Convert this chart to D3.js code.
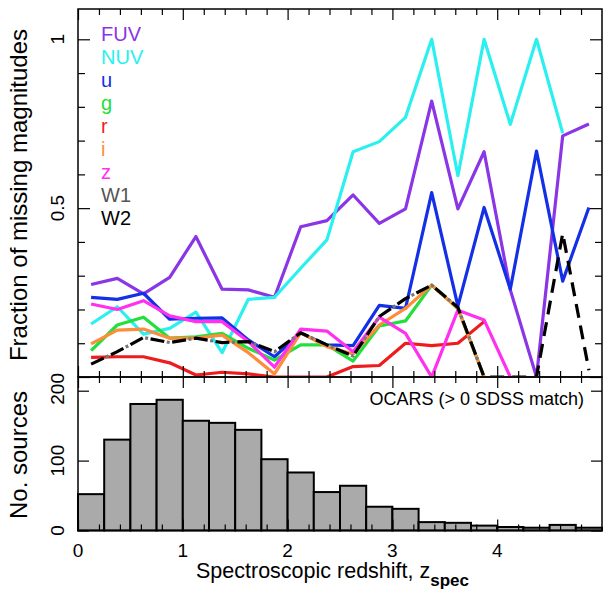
<!DOCTYPE html>
<html>
<head>
<meta charset="utf-8">
<script src="https://cdn.jsdelivr.net/npm/d3@7"></script>
<style>
    body { margin: 0; background: #fff; }
    text { font-family: "Liberation Sans", Arial, sans-serif; fill: #000; }
</style>
</head>
<body>
<script>
// redshift bin centres (bins are 0.25 wide)
const zBins = [0.125, 0.375, 0.625, 0.875, 1.125, 1.375, 1.625, 1.875, 2.125, 2.375,
    2.625, 2.875, 3.125, 3.375, 3.625, 3.875, 4.125, 4.375, 4.625, 4.875];
const binWidth = 0.25;

// No. sources per bin
const nSources = [52, 130, 181, 187, 157, 154, 144, 102, 83, 55, 64, 34, 31, 12, 11, 7, 5, 4, 8, 4];

// fraction of missing magnitudes per band
const fuv = [0.274, 0.292, 0.246, 0.295, 0.416, 0.260, 0.258, 0.236, 0.445, 0.463,
    0.539, 0.455, 0.498, 0.817, 0.498, 0.667, 0.258, 0.0, 0.714, 0.749];
const nuv = [0.157, 0.208, 0.127, 0.144, 0.192, 0.072, 0.230, 0.236, 0.322, 0.406,
    0.667, 0.697, 0.769, 1.0, 0.596, 1.0, 0.748, 1.0, 0.722, null];
const u_band = [0.236, 0.230, 0.248, 0.171, 0.174, 0.175, 0.110, 0.060, 0.130, 0.095,
    0.093, 0.212, 0.203, 0.546, 0.210, 0.502, 0.260, 0.669, 0.284, 0.502];
const g_band = [0.078, 0.154, 0.177, 0.115, 0.119, 0.129, 0.085, 0.050, 0.095, 0.095,
    0.047, 0.151, 0.166, 0.272, 0.203, 0.0, null, null, null, null];
const r_band = [0.058, 0.060, 0.060, 0.042, 0.006, 0.014, 0.009, 0.0, 0.0, 0.0,
    0.031, 0.034, 0.100, 0.093, 0.100, 0.164, null, null, null, null];
const i_band = [0.098, 0.139, 0.142, 0.115, 0.115, 0.124, 0.072, 0.009, 0.131, 0.090,
    0.068, 0.154, 0.203, 0.272, 0.203, 0.0, null, null, null, null];
const z_band = [0.216, 0.200, 0.226, 0.181, 0.164, 0.164, 0.105, 0.029, 0.142, 0.136,
    0.075, 0.177, 0.129, 0.0, 0.198, 0.169, 0.0, null, null, null];
const w1 = [0.038, 0.075, 0.117, 0.102, 0.115, 0.102, 0.105, 0.075, 0.131, 0.095,
    0.062, 0.179, 0.232, 0.272, 0.206, 0.0, null, null, null, null];
const w2 = [0.038, 0.075, 0.117, 0.102, 0.115, 0.102, 0.105, 0.075, 0.131, 0.095,
    0.062, 0.179, 0.232, 0.272, 0.206, 0.0, 0.0, 0.0, 0.425, 0.02];

const bandNames = ['FUV', 'NUV', 'u', 'g', 'r', 'i', 'z', 'W1', 'W2'];
const bandValues = [fuv, nuv, u_band, g_band, r_band, i_band, z_band, w1, w2];
const bandColours = ['#8a35e6', '#2af0f0', '#1330e6', '#22e03c', '#ee1c1c', '#ff8c3a', '#ff30ee', '#777777', '#000000'];
const legendColours = ['#8a35e6', '#2af0f0', '#1330e6', '#22e03c', '#ee1c1c', '#ff8c3a', '#ff30ee', '#555555', '#000000'];
// W2 is dashed, W1 shows only as dots in W2's gaps
const bandDash = [null, null, null, null, null, null, null, '3,19', '14,8'];
const bandDashOffset = [0, 0, 0, 0, 0, 0, 0, 5.5, 0];

// tick values
const xMajor = [0, 1, 2, 3, 4];
const xMinor = [0.2, 0.4, 0.6, 0.8, 1.2, 1.4, 1.6, 1.8, 2.2, 2.4, 2.6, 2.8, 3.2, 3.4, 3.6, 3.8, 4.2, 4.4, 4.6, 4.8];
const fracMajor = [0, 0.5, 1];
const fracMinor = [0.1, 0.2, 0.3, 0.4, 0.6, 0.7, 0.8, 0.9];
const fracLabels = [0.5, 1];
const countMajor = [0, 100, 200];
const countLabels = [0, 100, 200];

const width = 604, height = 590;
const left = 78, right = 602;
const topY = 9, midY = 377, botY = 530.5;

const svg = d3.select('body').append('svg')
    .attr('width', width)
    .attr('height', height);

const x = d3.scaleLinear().domain([0, 5]).range([left, right]);
const yFrac = d3.scaleLinear().domain([0, 1]).range([midY, 39.3]);
const yCount = d3.scaleLinear().domain([0, 200]).range([botY, 390.7]);

// clip for the coloured lines
svg.append('clipPath').attr('id', 'topclip')
    .append('rect')
    .attr('x', left).attr('y', topY)
    .attr('width', right - left).attr('height', midY - topY - 1);

// ---------- histogram ----------
svg.append('g').selectAll('rect')
    .data(nSources)
    .enter()
    .append('rect')
    .attr('x', (d, i) => x(zBins[i] - binWidth / 2))
    .attr('width', (d, i) => x(zBins[i] + binWidth / 2) - x(zBins[i] - binWidth / 2))
    .attr('y', d => yCount(d))
    .attr('height', d => yCount(0) - yCount(d))
    .attr('fill', '#aaaaaa')
    .attr('stroke', '#000')
    .attr('stroke-width', 2);

// ---------- lines ----------
const line = d3.line()
    .defined(d => d != null)
    .x((d, i) => x(zBins[i]))
    .y(d => yFrac(d));

const lines = svg.append('g').attr('clip-path', 'url(#topclip)');
bandValues.forEach(function (vals, k) {
    lines.append('path')
        .datum(vals)
        .attr('d', line)
        .attr('fill', 'none')
        .attr('stroke', bandColours[k])
        .attr('stroke-width', 3.2)
        .attr('stroke-linejoin', 'round')
        .attr('stroke-dasharray', bandDash[k])
        .attr('stroke-dashoffset', bandDashOffset[k]);
});

// ---------- ticks ----------
function ticks(axis, vals, size, transform) {
    const g = svg.append('g')
        .attr('transform', transform)
        .call(axis.tickValues(vals).tickSize(size).tickFormat(''));
    g.select('.domain').remove();
    g.selectAll('line').attr('stroke', '#000').attr('stroke-width', 1.2);
}

// top panel
ticks(d3.axisTop(x), xMajor, -11, 'translate(0,' + topY + ')');
ticks(d3.axisTop(x), xMinor, -6, 'translate(0,' + topY + ')');
ticks(d3.axisBottom(x), xMajor, -11, 'translate(0,' + midY + ')');
ticks(d3.axisBottom(x), xMinor, -6, 'translate(0,' + midY + ')');
ticks(d3.axisLeft(yFrac), fracMajor, -12, 'translate(' + left + ',0)');
ticks(d3.axisLeft(yFrac), fracMinor, -7, 'translate(' + left + ',0)');
ticks(d3.axisRight(yFrac), fracMajor, -12, 'translate(' + right + ',0)');
ticks(d3.axisRight(yFrac), fracMinor, -7, 'translate(' + right + ',0)');

// bottom panel
ticks(d3.axisTop(x), xMajor, -11, 'translate(0,' + midY + ')');
ticks(d3.axisTop(x), xMinor, -6, 'translate(0,' + midY + ')');
ticks(d3.axisBottom(x), xMajor, -11, 'translate(0,' + botY + ')');
ticks(d3.axisBottom(x), xMinor, -6, 'translate(0,' + botY + ')');
ticks(d3.axisLeft(yCount), countMajor, -11, 'translate(' + left + ',0)');
ticks(d3.axisRight(yCount), countMajor, -11, 'translate(' + right + ',0)');

// frames
svg.append('rect')
    .attr('x', left).attr('y', topY)
    .attr('width', right - left).attr('height', midY - topY)
    .attr('fill', 'none').attr('stroke', '#000').attr('stroke-width', 1.5);
svg.append('rect')
    .attr('x', left).attr('y', midY)
    .attr('width', right - left).attr('height', botY - midY)
    .attr('fill', 'none').attr('stroke', '#000').attr('stroke-width', 1.5);

// ---------- labels ----------
svg.append('g').selectAll('text')
    .data(xMajor)
    .enter()
    .append('text')
    .attr('x', d => x(d))
    .attr('y', 557)
    .attr('text-anchor', 'middle')
    .attr('font-size', 19)
    .text(d => d);

svg.append('g').selectAll('text')
    .data(fracLabels)
    .enter()
    .append('text')
    .attr('transform', d => 'translate(64,' + yFrac(d) + ') rotate(-90)')
    .attr('text-anchor', 'middle')
    .attr('font-size', 19)
    .text(d => d);

svg.append('g').selectAll('text')
    .data(countLabels)
    .enter()
    .append('text')
    .attr('transform', d => 'translate(64,' + yCount(d) + ') rotate(-90)')
    .attr('text-anchor', d => d === 200 ? 'start' : 'middle')
    .attr('dx', d => d === 200 ? -14 : 0)
    .attr('font-size', 19)
    .text(d => d);

svg.append('text')
    .attr('transform', 'translate(27,195) rotate(-90)')
    .attr('text-anchor', 'middle')
    .attr('font-size', 24)
    .text('Fraction of missing magnitudes');

svg.append('text')
    .attr('transform', 'translate(27,455) rotate(-90)')
    .attr('text-anchor', 'middle')
    .attr('font-size', 24)
    .text('No. sources');

const xlab = svg.append('text')
    .attr('x', 196)
    .attr('y', 578)
    .attr('font-size', 21.5)
    .text('Spectroscopic redshift, z');
xlab.append('tspan')
    .attr('dy', 8)
    .attr('font-size', 17)
    .attr('font-weight', 'bold')
    .text('spec');

svg.append('text')
    .attr('x', 584)
    .attr('y', 405)
    .attr('text-anchor', 'end')
    .attr('font-size', 18)
    .text('OCARS (> 0 SDSS match)');

// legend
svg.append('g').selectAll('text')
    .data(bandNames)
    .enter()
    .append('text')
    .attr('x', 101)
    .attr('y', (d, i) => 40.7 + 23 * i)
    .attr('font-size', 20)
    .style('fill', (d, i) => legendColours[i])
    .text(d => d);
</script>
</body>
</html>
